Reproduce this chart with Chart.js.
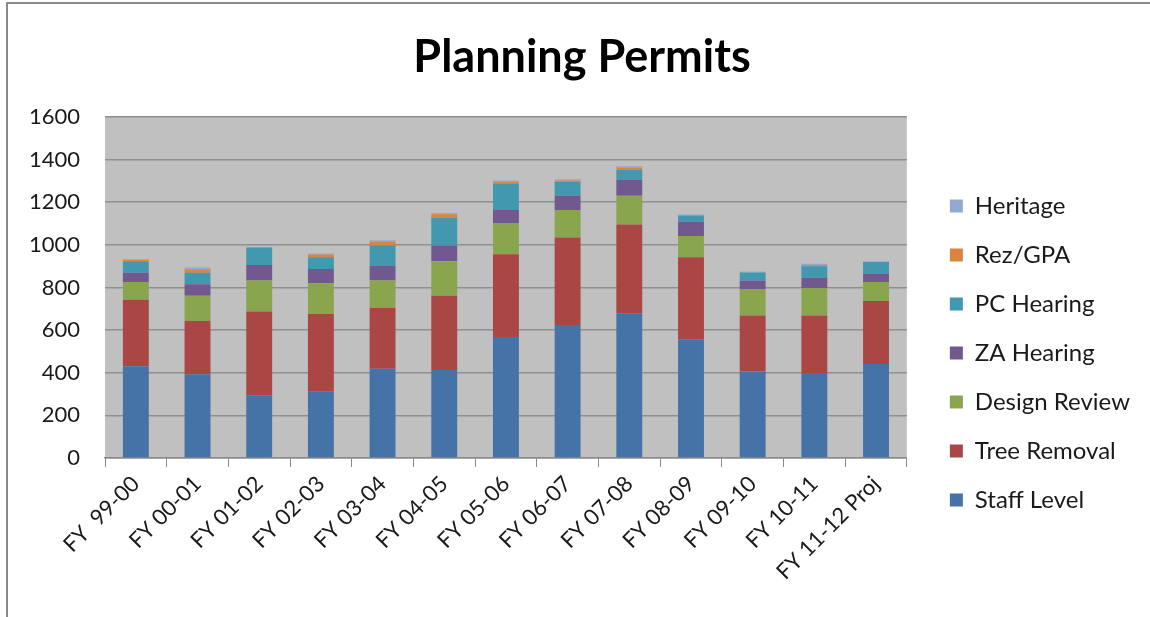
<!DOCTYPE html>
<html>
<head>
<meta charset="utf-8">
<script src="https://cdn.jsdelivr.net/npm/chart.js"></script>
<style>
  html, body { margin: 0; padding: 0; background: #fff; }
  #wrap { position: relative; width: 1150px; height: 617px; }
</style>
</head>
<body>
<div id="wrap"><canvas id="permits-chart" width="1150" height="617"></canvas></div>
<script>
var years = ['FY  99-00', 'FY 00-01', 'FY 01-02', 'FY 02-03', 'FY 03-04', 'FY 04-05', 'FY 05-06',
             'FY 06-07', 'FY 07-08', 'FY 08-09', 'FY 09-10', 'FY 10-11', 'FY 11-12 Proj'];
var staff_level    = [430, 393, 294, 313, 418, 412, 568, 624, 679, 557, 405, 398, 441];
var tree_removal   = [312, 250, 393, 362, 286, 349, 388, 410, 417, 385, 263, 270, 295];
var design_review  = [84, 118, 146, 145, 129, 162, 144, 129, 134, 99, 122, 129, 90];
var za_hearing     = [43, 54, 72, 67, 68, 74, 63, 67, 74, 67, 43, 48, 38];
var pc_hearing     = [54, 54, 83, 55, 97, 130, 122, 66, 47, 30, 37, 55, 55];
var rez_gpa        = [6, 17, 0, 13, 16, 17, 11, 6, 12, 0, 0, 5, 0];
var heritage       = [3, 8, 3, 4, 8, 5, 6, 6, 6, 4, 5, 6, 4];
var y_ticks        = [0, 200, 400, 600, 800, 1000, 1200, 1400, 1600];

var font_family = 'Lato, "Open Sans", sans-serif';
var bottom_pad = 28;

// grey plot area + outer frame lines
var plot_background = {
    id: 'plot_background',
    beforeDraw: function (chart) {
        var ctx = chart.ctx;
        var a = chart.chartArea;
        ctx.save();
        ctx.fillStyle = '#fff';
        ctx.fillRect(0, 0, chart.width, chart.height);
        ctx.strokeStyle = '#8a8a8a';
        ctx.lineWidth = 2;
        ctx.beginPath();
        ctx.moveTo(7, chart.height);
        ctx.lineTo(7, 3);
        ctx.lineTo(chart.width, 3);
        ctx.stroke();
        ctx.fillStyle = '#c0c0c0';
        ctx.fillRect(a.left, a.top, a.right - a.left, a.bottom - a.top);
        ctx.restore();
    }
};

function make_set(label, data, color) {
    return {
        label: label,
        data: data,
        backgroundColor: color,
        borderWidth: 0,
        barPercentage: 0.42,
        categoryPercentage: 1.0
    };
}

var ctx = document.getElementById('permits-chart').getContext('2d');
var permits_chart = new Chart(ctx, {
    type: 'bar',
    data: {
        labels: years,
        datasets: [
            make_set('Staff Level', staff_level, '#4572a7'),
            make_set('Tree Removal', tree_removal, '#aa4643'),
            make_set('Design Review', design_review, '#89a54e'),
            make_set('ZA Hearing', za_hearing, '#71588f'),
            make_set('PC Hearing', pc_hearing, '#4198af'),
            make_set('Rez/GPA', rez_gpa, '#db843d'),
            make_set('Heritage', heritage, '#93a9cf')
        ]
    },
    options: {
        responsive: false,
        animation: false,
        layout: {
            padding: { left: 24, right: 10, top: 0, bottom: bottom_pad }
        },
        plugins: {
            title: {
                display: true,
                text: 'Planning Permits',
                color: '#000',
                font: { family: font_family, size: 45, weight: 'bold' },
                padding: { top: 30, bottom: 33 }
            },
            legend: {
                display: true,
                position: 'right',
                reverse: true,
                maxWidth: 260,
                title: {
                    display: true,
                    text: ' ',
                    font: { size: 10 },
                    padding: { top: 89 + bottom_pad - 12, bottom: 0 }
                },
                labels: {
                    color: '#1a1a1a',
                    font: { family: font_family, size: 24 },
                    boxWidth: 13,
                    boxHeight: 13,
                    padding: 25
                }
            },
            tooltip: { enabled: false }
        },
        scales: {
            x: {
                stacked: true,
                grid: {
                    offset: true,
                    drawOnChartArea: false,
                    drawTicks: true,
                    tickLength: 9,
                    color: '#8a8a8a'
                },
                border: { display: true, color: '#8a8a8a', width: 1.5 },
                ticks: {
                    color: '#1a1a1a',
                    font: { family: font_family, size: 22 },
                    minRotation: 45,
                    maxRotation: 45,
                    autoSkip: false,
                    padding: 4
                }
            },
            y: {
                stacked: true,
                min: 0,
                max: 1600,
                afterBuildTicks: function (axis) {
                    axis.ticks = y_ticks.map(function (v) { return { value: v }; });
                },
                afterFit: function (axis) {
                    axis.width = 81;
                },
                grid: {
                    color: '#8f8f8f',
                    lineWidth: 1.5,
                    drawTicks: false
                },
                border: { display: false },
                ticks: {
                    color: '#1a1a1a',
                    font: { family: font_family, size: 22 },
                    padding: 25,
                    callback: function (value) { return String(value); }
                }
            },
            // empty axis, only keeps a gap between the plot and the legend
            gap: {
                type: 'linear',
                position: 'right',
                display: true,
                grid: { display: false },
                border: { display: false },
                ticks: { display: false },
                afterFit: function (axis) {
                    axis.width = 18;
                }
            }
        }
    },
    plugins: [plot_background]
});
</script>
</body>
</html>
